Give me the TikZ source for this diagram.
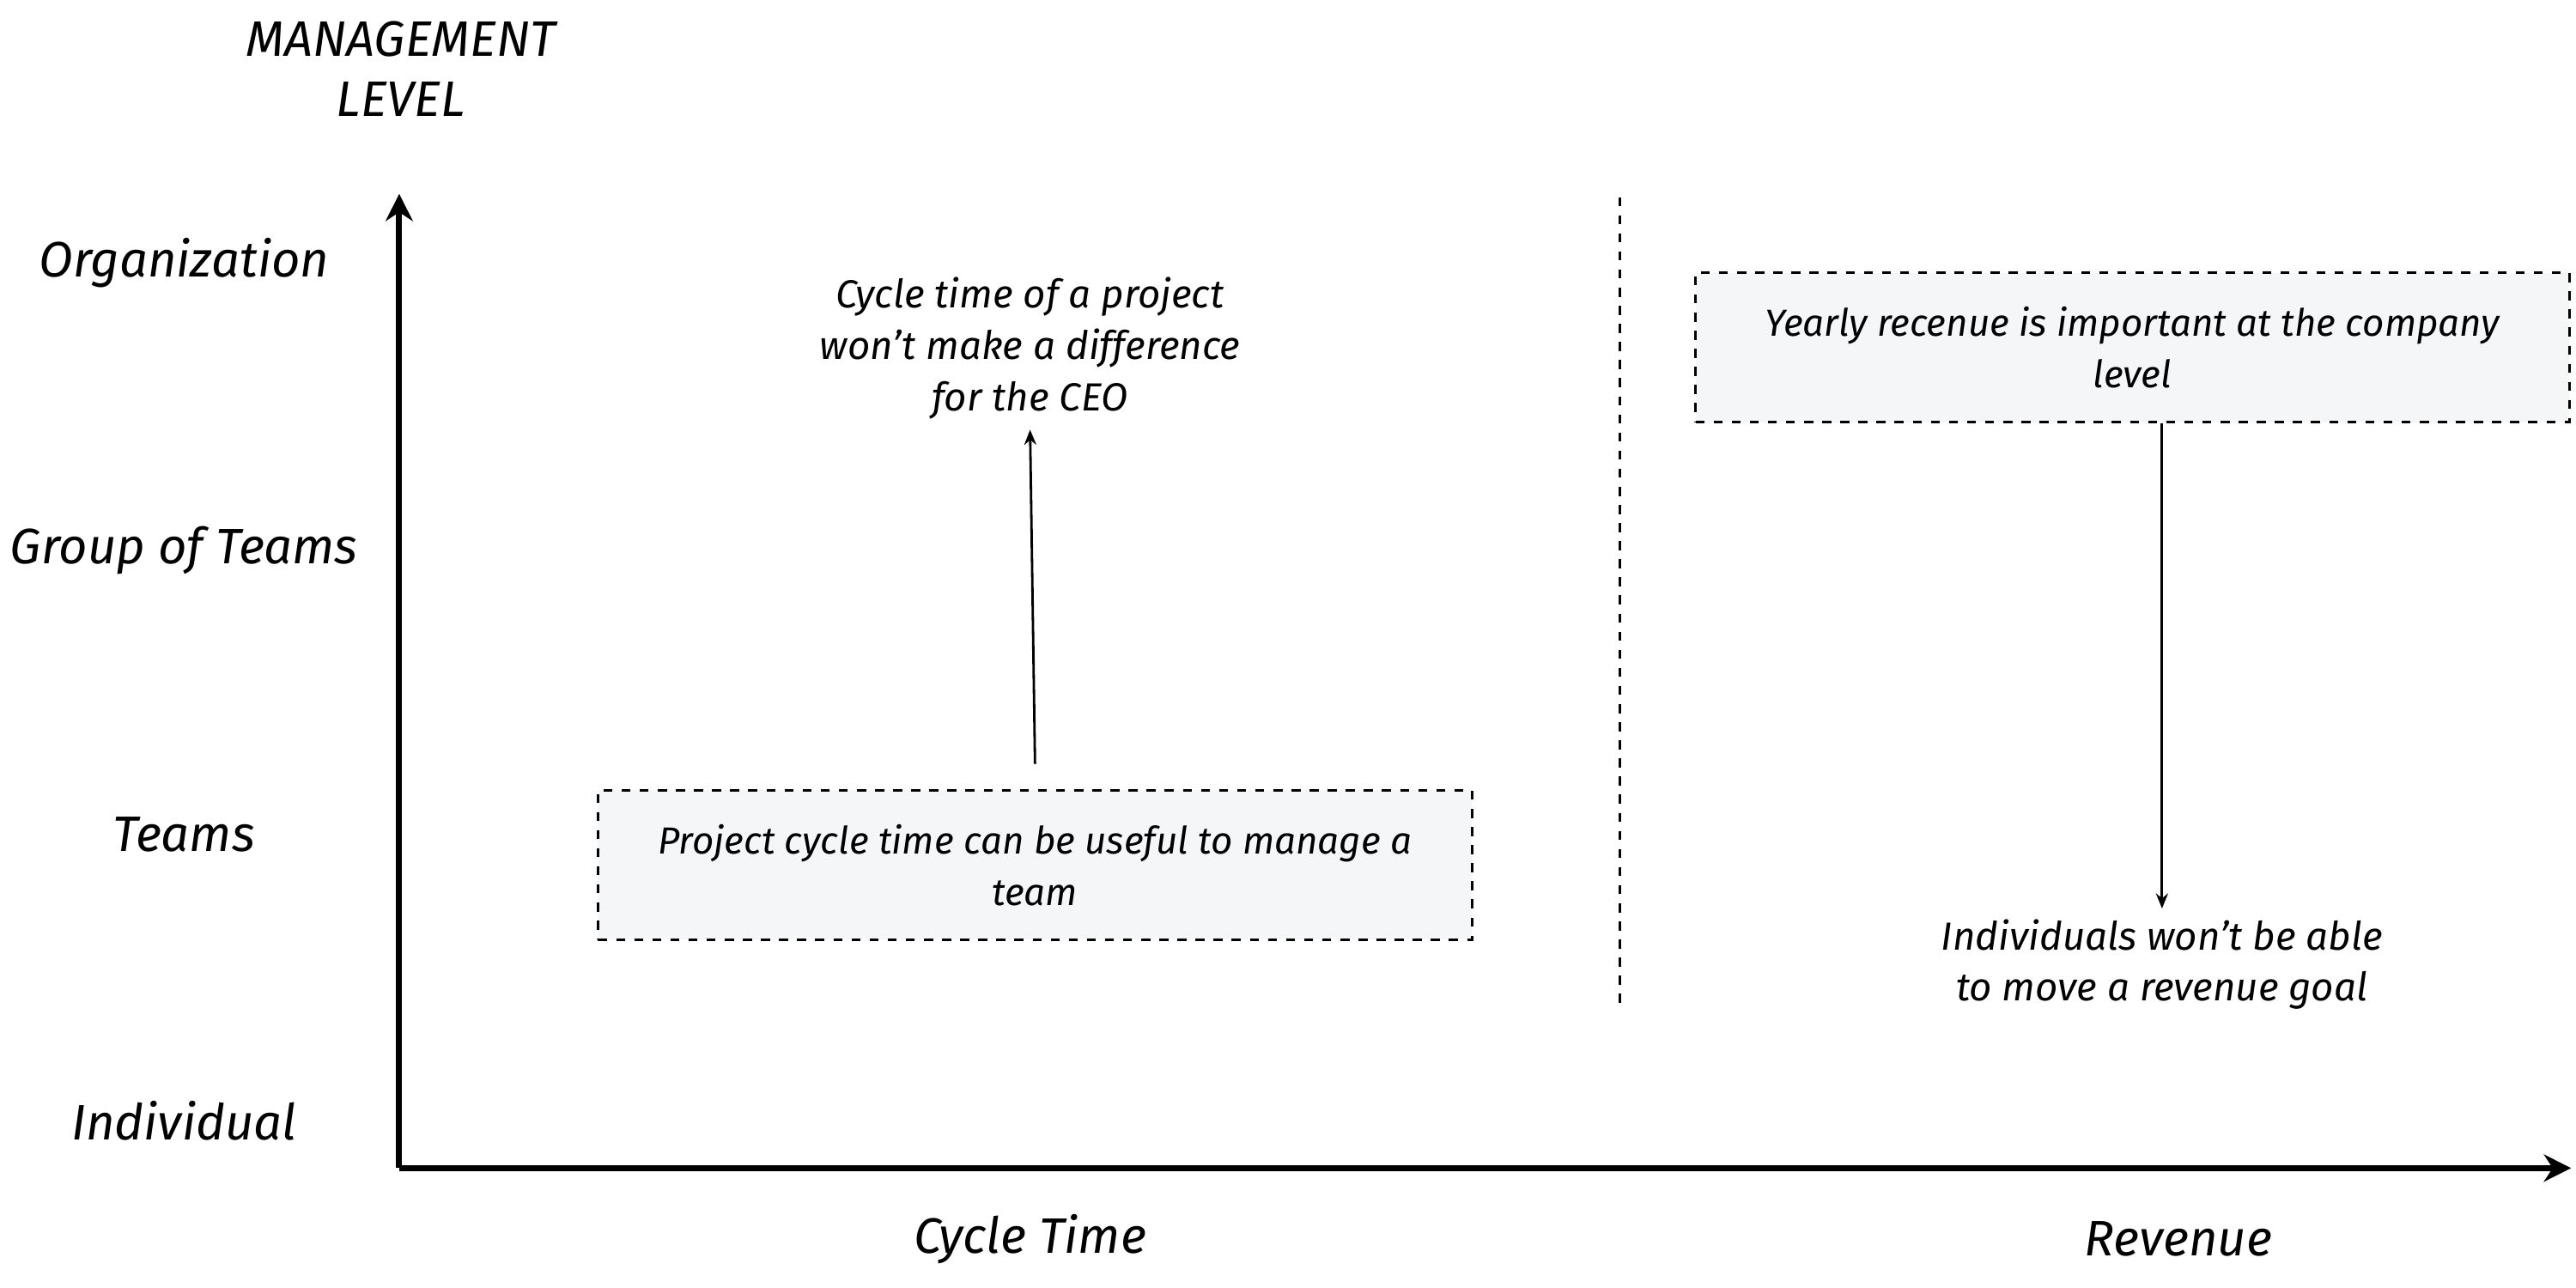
\documentclass[tikz,border=0pt]{standalone}
\usepackage{fontspec}
\setmainfont{Fira Sans}
\usetikzlibrary{arrows.meta}
\begin{document}
\begin{tikzpicture}[x=0.01913cm,y=-0.01913cm,
  lab/.style={font=\itshape\fontsize{16.5}{20}\selectfont,align=center},
  txt/.style={font=\itshape\fontsize{13}{17}\selectfont,align=center},
  box/.style={draw,dashed,fill={rgb,255:red,245;green,246;blue,248},line width=0.9pt,minimum width=532*0.01913cm,minimum height=91*0.01913cm,align=center,font=\itshape\fontsize{12.5}{17}\selectfont},
  axis/.style={line width=2pt,-{Stealth[length=9pt,width=9pt]}},
  thin/.style={line width=0.8pt,-{Stealth[length=5pt,width=4pt]}}]
\useasboundingbox (0,0) rectangle (1568,784);
\coordinate (o) at (243,711);
\coordinate (ytop) at (243,118);
\coordinate (xend) at (1565,711);
\draw[axis] (o) -- (ytop);
\draw[axis] (o) -- (xend);
\node[lab] (title) at (244,42) {MANAGEMENT\\LEVEL};
\node[lab] (org) at (112,160) {Organization};
\node[lab] (got) at (112,335) {Group of Teams};
\node[lab] (teams) at (112,508) {Teams};
\node[lab] (ind) at (112,682) {Individual};
\node[lab] (ct) at (627,754) {Cycle Time};
\node[lab] (rev) at (1326,754) {Revenue};
\coordinate (d1) at (986,120);
\coordinate (d2) at (986,612);
\draw[dashed,line width=0.9pt] (d1) -- (d2);
\node[box] (b1) at (630,526.5) {Project cycle time can be useful to manage a\\team};
\node[box] (b2) at (1298,211.5) {Yearly recenue is important at the company\\level};
\node[txt] (ceo) at (627,212) {Cycle time of a project\\won't make a difference\\for the CEO};
\node[txt] (indv) at (1316,587) {Individuals won't be able\\to move a revenue goal};
\coordinate (a1) at (630,465);
\draw[thin] (a1) -- (ceo.south);
\draw[thin] (b2.south -| indv) -- (indv.north);
\end{tikzpicture}
\end{document}
